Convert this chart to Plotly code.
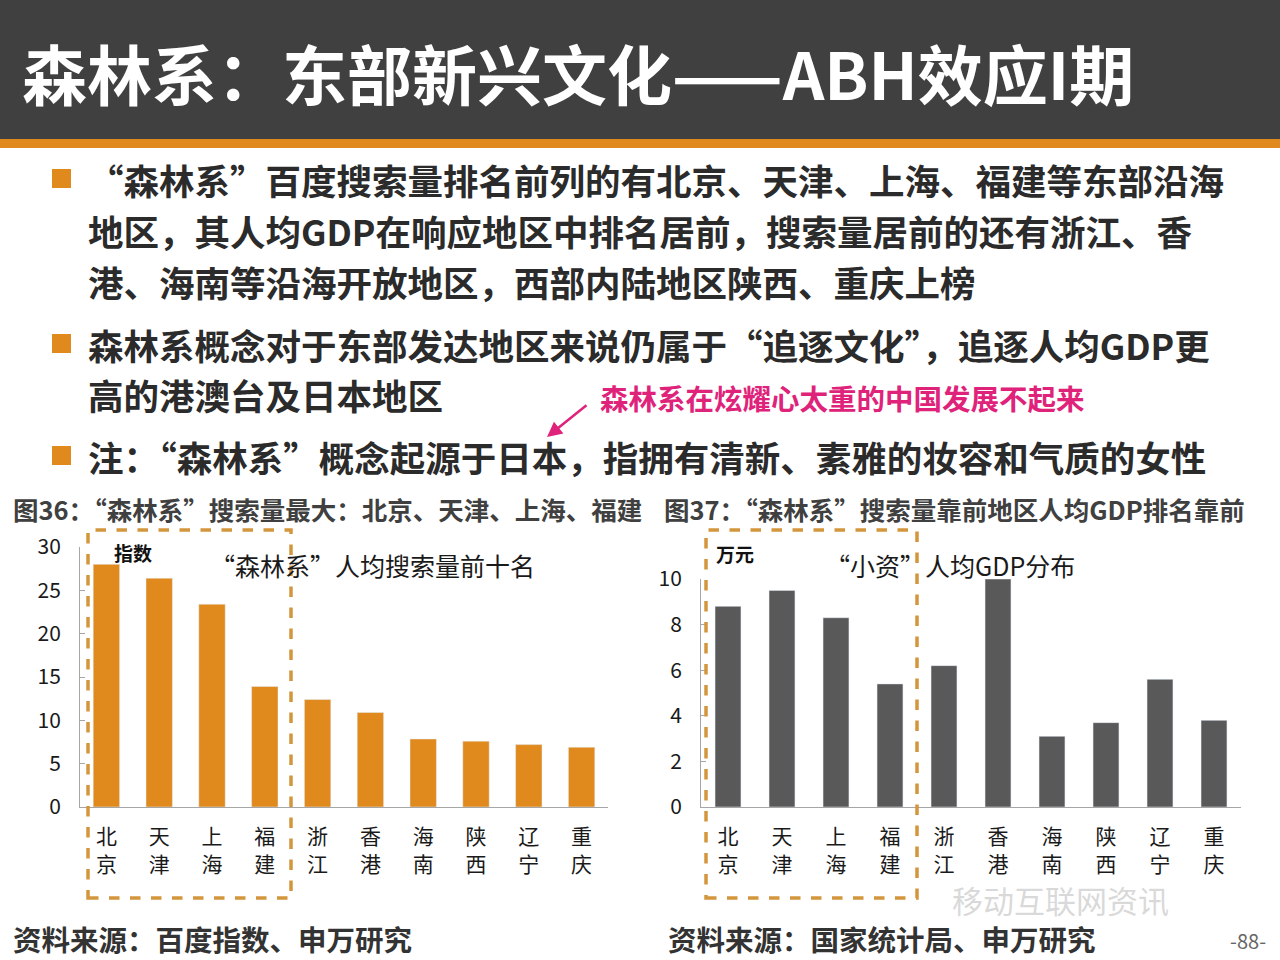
import plotly.graph_objects as go

# ---------------- data ----------------
categories = ["北京", "天津", "上海", "福建", "浙江", "香港", "海南", "陕西", "辽宁", "重庆"]
search_index = [28.0, 26.4, 23.4, 13.9, 12.4, 10.9, 7.85, 7.6, 7.2, 6.9]
gdp_per_capita = [8.8, 9.5, 8.3, 5.4, 6.2, 10.0, 3.1, 3.7, 5.6, 3.8]
tick_labels = [c[0] + "<br>" + c[1] for c in categories]

title_text = "森林系：东部新兴文化——ABH效应I期"
bullets = [
    ["“森林系”百度搜索量排名前列的有北京、天津、上海、福建等东部沿海",
     "地区，其人均GDP在响应地区中排名居前，搜索量居前的还有浙江、香",
     "港、海南等沿海开放地区，西部内陆地区陕西、重庆上榜"],
    ["森林系概念对于东部发达地区来说仍属于“追逐文化”，追逐人均GDP更",
     "高的港澳台及日本地区"],
    ["注：“森林系”概念起源于日本，指拥有清新、素雅的妆容和气质的女性"],
]
note_text = "森林系在炫耀心太重的中国发展不起来"
fig36_title = "图36：“森林系”搜索量最大：北京、天津、上海、福建"
fig37_title = "图37：“森林系”搜索量靠前地区人均GDP排名靠前"
chart1_label = "“森林系”人均搜索量前十名"
chart2_label = "“小资”人均GDP分布"
unit1 = "指数"
unit2 = "万元"
source1 = "资料来源：百度指数、申万研究"
source2 = "资料来源：国家统计局、申万研究"
page_no = "-88-"
watermark = "移动互联网资讯"

# ---------------- style ----------------
W, H = 1280, 960
FONT = "Noto Sans CJK SC"
ORANGE = "#E08A1E"
GRAY_BAR = "#595959"
DASH = "#D4963C"
TEXT = "#2B2B2B"
AXIS = "#A6A6A6"


def px(x):
    return x / W


def py(y):
    return 1 - y / H


fig = go.Figure()
fig.add_trace(go.Bar(x=categories, y=search_index, marker_color=ORANGE, width=0.5,
                     xaxis="x", yaxis="y", showlegend=False))
fig.add_trace(go.Bar(x=categories, y=gdp_per_capita, marker_color=GRAY_BAR, width=0.48,
                     xaxis="x2", yaxis="y2", showlegend=False))

axis_common = dict(showline=True, linecolor=AXIS, linewidth=1, showgrid=False, zeroline=False,
                   automargin=False, tickfont=dict(family=FONT, size=21, color="#1a1a1a"))
xcommon = dict(tickmode="array", tickvals=categories, ticktext=tick_labels, ticks="outside",
               ticklen=11, tickcolor="rgba(0,0,0,0)", **axis_common)
ycommon = dict(ticks="inside", ticklen=5, tickcolor=AXIS, ticklabelstandoff=14, **axis_common)
fig.update_layout(
    xaxis=dict(domain=[px(80), px(608)], anchor="y", **xcommon),
    yaxis=dict(domain=[py(807), py(547)], anchor="x", range=[0, 30], dtick=5, **ycommon),
    xaxis2=dict(domain=[px(701), px(1241)], anchor="y2", **xcommon),
    yaxis2=dict(domain=[py(807), py(579)], anchor="x2", range=[0, 10], dtick=2, **ycommon),
)

shapes = []
annotations = []

# title bar
shapes.append(dict(type="rect", xref="paper", yref="paper", x0=0, x1=1, y0=py(139), y1=1,
                   fillcolor="#404040", line_width=0, layer="below"))
shapes.append(dict(type="rect", xref="paper", yref="paper", x0=0, x1=1, y0=py(148), y1=py(139),
                   fillcolor=ORANGE, line_width=0, layer="below"))
annotations.append(dict(xref="paper", yref="paper", x=px(20), y=py(72), xanchor="left", yanchor="middle",
                        text="<b>" + title_text + "</b>", showarrow=False,
                        font=dict(family=FONT, size=65, color="white")))

# bullets
line_y = [[179, 230, 281], [344, 395], [456]]
for lines, ys in zip(bullets, line_y):
    shapes.append(dict(type="rect", xref="paper", yref="paper", x0=px(52), x1=px(71),
                       y0=py(ys[0] + 9), y1=py(ys[0] - 10), fillcolor=ORANGE, line_width=0))
    for t, yy in zip(lines, ys):
        annotations.append(dict(xref="paper", yref="paper", x=px(86), y=py(yy), xanchor="left",
                                yanchor="middle", text="<b>" + t + "</b>", showarrow=False,
                                font=dict(family=FONT, size=35.5, color=TEXT)))

# pink note with arrow
annotations.append(dict(xref="paper", yref="paper", x=px(598), y=py(397), xanchor="left", yanchor="middle",
                        text="<b>" + note_text + "</b>", showarrow=False,
                        font=dict(family=FONT, size=28.5, color="#E0237A")))
annotations.append(dict(xref="paper", yref="paper", x=px(547), y=py(437), text="", showarrow=True,
                        ax=41, ay=-33, axref="pixel", ayref="pixel", arrowhead=2, arrowsize=1.2,
                        arrowwidth=2.5, arrowcolor="#E0237A"))

# figure titles
annotations.append(dict(xref="paper", yref="paper", x=px(11), y=py(508), xanchor="left", yanchor="middle",
                        text="<b>" + fig36_title + "</b>", showarrow=False,
                        font=dict(family=FONT, size=25.5, color="#404040")))
annotations.append(dict(xref="paper", yref="paper", x=px(662), y=py(508), xanchor="left", yanchor="middle",
                        text="<b>" + fig37_title + "</b>", showarrow=False,
                        font=dict(family=FONT, size=25.5, color="#404040")))

# inner labels
annotations.append(dict(xref="paper", yref="paper", x=px(112), y=py(552), xanchor="left", yanchor="middle",
                        text="<b>" + unit1 + "</b>", showarrow=False,
                        font=dict(family=FONT, size=19, color="#111")))
annotations.append(dict(xref="paper", yref="paper", x=px(714), y=py(553), xanchor="left", yanchor="middle",
                        text="<b>" + unit2 + "</b>", showarrow=False,
                        font=dict(family=FONT, size=19, color="#111")))
annotations.append(dict(xref="paper", yref="paper", x=px(372), y=py(565), xanchor="center", yanchor="middle",
                        text=chart1_label, showarrow=False,
                        font=dict(family=FONT, size=25, color="#1a1a1a")))
annotations.append(dict(xref="paper", yref="paper", x=px(950), y=py(565), xanchor="center", yanchor="middle",
                        text=chart2_label, showarrow=False,
                        font=dict(family=FONT, size=25, color="#1a1a1a")))

# dashed highlight boxes
for x0, x1 in [(88, 291), (706, 917)]:
    shapes.append(dict(type="rect", xref="paper", yref="paper", x0=px(x0), x1=px(x1),
                       y0=py(898), y1=py(530), line=dict(color=DASH, width=3.5, dash="dash"),
                       fillcolor="rgba(0,0,0,0)"))

# watermark
annotations.append(dict(xref="paper", yref="paper", x=px(950), y=py(899), xanchor="left", yanchor="middle",
                        text=watermark, showarrow=False,
                        font=dict(family=FONT, size=31, color="rgba(185,185,185,0.55)")))

# sources and page number
annotations.append(dict(xref="paper", yref="paper", x=px(11), y=py(938), xanchor="left", yanchor="middle",
                        text="<b>" + source1 + "</b>", showarrow=False,
                        font=dict(family=FONT, size=28.5, color="#333")))
annotations.append(dict(xref="paper", yref="paper", x=px(666), y=py(938), xanchor="left", yanchor="middle",
                        text="<b>" + source2 + "</b>", showarrow=False,
                        font=dict(family=FONT, size=28.5, color="#333")))
annotations.append(dict(xref="paper", yref="paper", x=px(1268), y=py(940), xanchor="right", yanchor="middle",
                        text=page_no, showarrow=False,
                        font=dict(family=FONT, size=20, color="#666")))

fig.update_layout(width=W, height=H, margin=dict(l=0, r=0, t=0, b=0, autoexpand=False),
                  paper_bgcolor="white", plot_bgcolor="white",
                  shapes=shapes, annotations=annotations,
                  font=dict(family=FONT))

post = (
    "document.documentElement.style.margin='0';"
    "document.documentElement.style.overflow='hidden';"
    "document.body.style.margin='0';"
    "document.body.style.overflow='hidden';"
    "var gd=document.getElementById('{plot_id}');"
    "gd.style.position='fixed';gd.style.top='0px';gd.style.left='0px';"
)
fig.write_html("out.html", config={"displayModeBar": False}, post_script=post)
